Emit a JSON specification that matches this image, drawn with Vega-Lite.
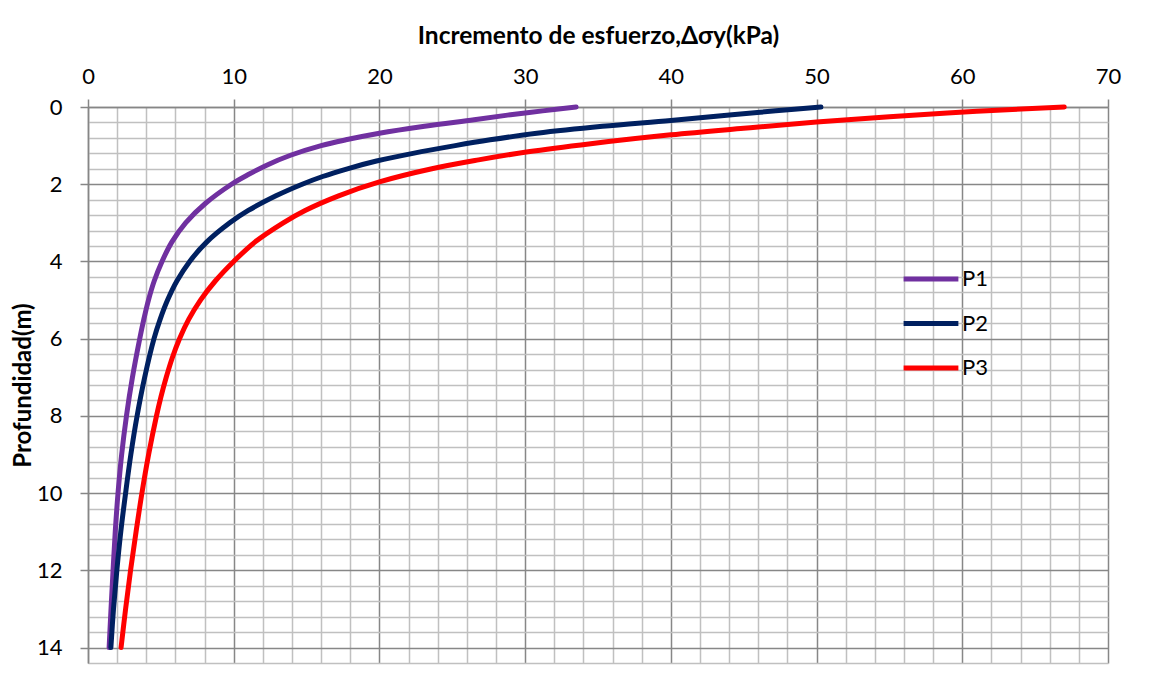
{
  "$schema": "https://vega.github.io/schema/vega-lite/v6.json",
  "width": 1020,
  "height": 556,
  "autosize": {"type": "none"},
  "padding": {"left": 88, "top": 107, "right": 46, "bottom": 14},
  "background": "white",
  "config": {"view": {"stroke": null}, "font": "Lato"},
  "data": {"values": [
    {"serie": "P1", "profundidad": 0, "esfuerzo": 33.5},
    {"serie": "P1", "profundidad": 0.1, "esfuerzo": 31.2},
    {"serie": "P1", "profundidad": 0.2, "esfuerzo": 29.0},
    {"serie": "P1", "profundidad": 0.33, "esfuerzo": 26.5},
    {"serie": "P1", "profundidad": 0.5, "esfuerzo": 23.1},
    {"serie": "P1", "profundidad": 0.68, "esfuerzo": 20.0},
    {"serie": "P1", "profundidad": 0.85, "esfuerzo": 17.7},
    {"serie": "P1", "profundidad": 1.0, "esfuerzo": 16.0},
    {"serie": "P1", "profundidad": 1.25, "esfuerzo": 13.9},
    {"serie": "P1", "profundidad": 1.5, "esfuerzo": 12.3},
    {"serie": "P1", "profundidad": 1.75, "esfuerzo": 11.0},
    {"serie": "P1", "profundidad": 2.0, "esfuerzo": 9.85},
    {"serie": "P1", "profundidad": 2.5, "esfuerzo": 8.05},
    {"serie": "P1", "profundidad": 3.0, "esfuerzo": 6.7},
    {"serie": "P1", "profundidad": 3.5, "esfuerzo": 5.75},
    {"serie": "P1", "profundidad": 4.0, "esfuerzo": 5.08},
    {"serie": "P1", "profundidad": 4.5, "esfuerzo": 4.55},
    {"serie": "P1", "profundidad": 5.0, "esfuerzo": 4.15},
    {"serie": "P1", "profundidad": 5.5, "esfuerzo": 3.83},
    {"serie": "P1", "profundidad": 6.0, "esfuerzo": 3.55},
    {"serie": "P1", "profundidad": 7.0, "esfuerzo": 3.05},
    {"serie": "P1", "profundidad": 8.0, "esfuerzo": 2.64},
    {"serie": "P1", "profundidad": 9.0, "esfuerzo": 2.31},
    {"serie": "P1", "profundidad": 10.0, "esfuerzo": 2.06},
    {"serie": "P1", "profundidad": 11.0, "esfuerzo": 1.87},
    {"serie": "P1", "profundidad": 12.0, "esfuerzo": 1.72},
    {"serie": "P1", "profundidad": 13.0, "esfuerzo": 1.58},
    {"serie": "P1", "profundidad": 14.0, "esfuerzo": 1.45},
    {"serie": "P2", "profundidad": 0, "esfuerzo": 50.3},
    {"serie": "P2", "profundidad": 0.1, "esfuerzo": 47.2},
    {"serie": "P2", "profundidad": 0.2, "esfuerzo": 44.2},
    {"serie": "P2", "profundidad": 0.35, "esfuerzo": 40.0},
    {"serie": "P2", "profundidad": 0.5, "esfuerzo": 35.3},
    {"serie": "P2", "profundidad": 0.68, "esfuerzo": 30.8},
    {"serie": "P2", "profundidad": 0.85, "esfuerzo": 27.6},
    {"serie": "P2", "profundidad": 1.0, "esfuerzo": 25.2},
    {"serie": "P2", "profundidad": 1.2, "esfuerzo": 22.3},
    {"serie": "P2", "profundidad": 1.4, "esfuerzo": 19.8},
    {"serie": "P2", "profundidad": 1.6, "esfuerzo": 17.8},
    {"serie": "P2", "profundidad": 1.8, "esfuerzo": 16.1},
    {"serie": "P2", "profundidad": 2.0, "esfuerzo": 14.7},
    {"serie": "P2", "profundidad": 2.3, "esfuerzo": 12.9},
    {"serie": "P2", "profundidad": 2.68, "esfuerzo": 11.0},
    {"serie": "P2", "profundidad": 3.0, "esfuerzo": 9.73},
    {"serie": "P2", "profundidad": 3.5, "esfuerzo": 8.14},
    {"serie": "P2", "profundidad": 4.0, "esfuerzo": 6.98},
    {"serie": "P2", "profundidad": 4.5, "esfuerzo": 6.11},
    {"serie": "P2", "profundidad": 5.0, "esfuerzo": 5.46},
    {"serie": "P2", "profundidad": 5.5, "esfuerzo": 4.95},
    {"serie": "P2", "profundidad": 6.0, "esfuerzo": 4.53},
    {"serie": "P2", "profundidad": 7.0, "esfuerzo": 3.89},
    {"serie": "P2", "profundidad": 8.0, "esfuerzo": 3.37},
    {"serie": "P2", "profundidad": 9.0, "esfuerzo": 2.94},
    {"serie": "P2", "profundidad": 10.0, "esfuerzo": 2.58},
    {"serie": "P2", "profundidad": 11.0, "esfuerzo": 2.25},
    {"serie": "P2", "profundidad": 12.0, "esfuerzo": 1.98},
    {"serie": "P2", "profundidad": 13.0, "esfuerzo": 1.75},
    {"serie": "P2", "profundidad": 14.0, "esfuerzo": 1.57},
    {"serie": "P3", "profundidad": 0, "esfuerzo": 67.0},
    {"serie": "P3", "profundidad": 0.11, "esfuerzo": 61.0},
    {"serie": "P3", "profundidad": 0.25, "esfuerzo": 55.0},
    {"serie": "P3", "profundidad": 0.39, "esfuerzo": 50.0},
    {"serie": "P3", "profundidad": 0.55, "esfuerzo": 45.0},
    {"serie": "P3", "profundidad": 0.72, "esfuerzo": 40.0},
    {"serie": "P3", "profundidad": 0.95, "esfuerzo": 34.5},
    {"serie": "P3", "profundidad": 1.16, "esfuerzo": 30.2},
    {"serie": "P3", "profundidad": 1.37, "esfuerzo": 26.8},
    {"serie": "P3", "profundidad": 1.6, "esfuerzo": 23.6},
    {"serie": "P3", "profundidad": 1.94, "esfuerzo": 20.0},
    {"serie": "P3", "profundidad": 2.3, "esfuerzo": 17.2},
    {"serie": "P3", "profundidad": 2.68, "esfuerzo": 14.9},
    {"serie": "P3", "profundidad": 3.0, "esfuerzo": 13.4},
    {"serie": "P3", "profundidad": 3.5, "esfuerzo": 11.45},
    {"serie": "P3", "profundidad": 4.0, "esfuerzo": 10.0},
    {"serie": "P3", "profundidad": 4.5, "esfuerzo": 8.75},
    {"serie": "P3", "profundidad": 5.0, "esfuerzo": 7.72},
    {"serie": "P3", "profundidad": 5.5, "esfuerzo": 6.91},
    {"serie": "P3", "profundidad": 6.0, "esfuerzo": 6.28},
    {"serie": "P3", "profundidad": 6.5, "esfuerzo": 5.78},
    {"serie": "P3", "profundidad": 7.0, "esfuerzo": 5.37},
    {"serie": "P3", "profundidad": 7.5, "esfuerzo": 5.01},
    {"serie": "P3", "profundidad": 8.0, "esfuerzo": 4.7},
    {"serie": "P3", "profundidad": 9.0, "esfuerzo": 4.16},
    {"serie": "P3", "profundidad": 10.0, "esfuerzo": 3.7},
    {"serie": "P3", "profundidad": 11.0, "esfuerzo": 3.3},
    {"serie": "P3", "profundidad": 12.0, "esfuerzo": 2.92},
    {"serie": "P3", "profundidad": 13.0, "esfuerzo": 2.58},
    {"serie": "P3", "profundidad": 14.0, "esfuerzo": 2.27}
  ]},
  "mark": {"type": "line", "strokeWidth": 5, "strokeCap": "round", "strokeJoin": "round", "interpolate": "catmull-rom"},
  "encoding": {
    "x": {
      "field": "esfuerzo", "type": "quantitative",
      "scale": {"domain": [0, 70], "nice": false, "zero": false},
      "axis": {
        "orient": "top",
        "values": [0,2,4,6,8,10,12,14,16,18,20,22,24,26,28,30,32,34,36,38,40,42,44,46,48,50,52,54,56,58,60,62,64,66,68,70],
        "labelExpr": "datum.value % 10 === 0 ? datum.label : ''",
        "labelOverlap": false, "labelFlush": false,
        "title": "Incremento de esfuerzo,Δσy(kPa)",
        "titleFont": "Lato", "titleFontSize": 24.5, "titleFontWeight": "bold", "titleColor": "black", "titlePadding": 17,
        "labelFont": "Lato", "labelFontSize": 22, "labelColor": "black", "labelPadding": 11,
        "tickSize": 8, "tickColor": "#868686", "tickWidth": 1.5,
        "tickOpacity": {"condition": {"test": "datum.value % 10 === 0", "value": 1}, "value": 0},
        "domainColor": "#868686", "domainWidth": 1.5,
        "grid": true,
        "gridColor": {"condition": {"test": "datum.value % 10 === 0", "value": "#878787"}, "value": "#C0C0C0"},
        "gridWidth": 1.5, "gridOpacity": 1
      }
    },
    "y": {
      "field": "profundidad", "type": "quantitative",
      "scale": {"domain": [0, 14.4], "reverse": true, "nice": false, "zero": false},
      "axis": {
        "orient": "left",
        "values": [0,0.4,0.8,1.2,1.6,2,2.4,2.8,3.2,3.6,4,4.4,4.8,5.2,5.6,6,6.4,6.8,7.2,7.6,8,8.4,8.8,9.2,9.6,10,10.4,10.8,11.2,11.6,12,12.4,12.8,13.2,13.6,14,14.4],
        "labelExpr": "datum.value % 2 === 0 ? format(datum.value, 'd') : ''",
        "labelOverlap": false, "labelFlush": false,
        "title": "Profundidad(m)",
        "titleFont": "Lato", "titleFontSize": 24, "titleFontWeight": "bold", "titleColor": "black", "titlePadding": 1,
        "labelFont": "Lato", "labelFontSize": 22, "labelColor": "black", "labelPadding": 18,
        "tickSize": 8, "tickColor": "#868686", "tickWidth": 1.5,
        "tickOpacity": {"condition": {"test": "datum.value % 2 === 0", "value": 1}, "value": 0},
        "domainColor": "#868686", "domainWidth": 1.5,
        "grid": true,
        "gridColor": {"condition": {"test": "datum.value % 2 === 0", "value": "#878787"}, "value": "#C0C0C0"},
        "gridWidth": 1.5, "gridOpacity": 1
      }
    },
    "color": {
      "field": "serie", "type": "nominal",
      "scale": {"domain": ["P1", "P2", "P3"], "range": ["#7030A0", "#002060", "#FF0000"]},
      "legend": {
        "orient": "none", "legendX": 813, "legendY": 142,
        "title": null,
        "symbolType": "stroke", "symbolStrokeWidth": 5, "symbolSize": 3000,
        "labelFont": "Lato", "labelFontSize": 22, "labelColor": "black", "labelOffset": 1,
        "rowPadding": 3.5
      }
    },
    "order": {"field": "profundidad", "type": "quantitative"}
  }
}
